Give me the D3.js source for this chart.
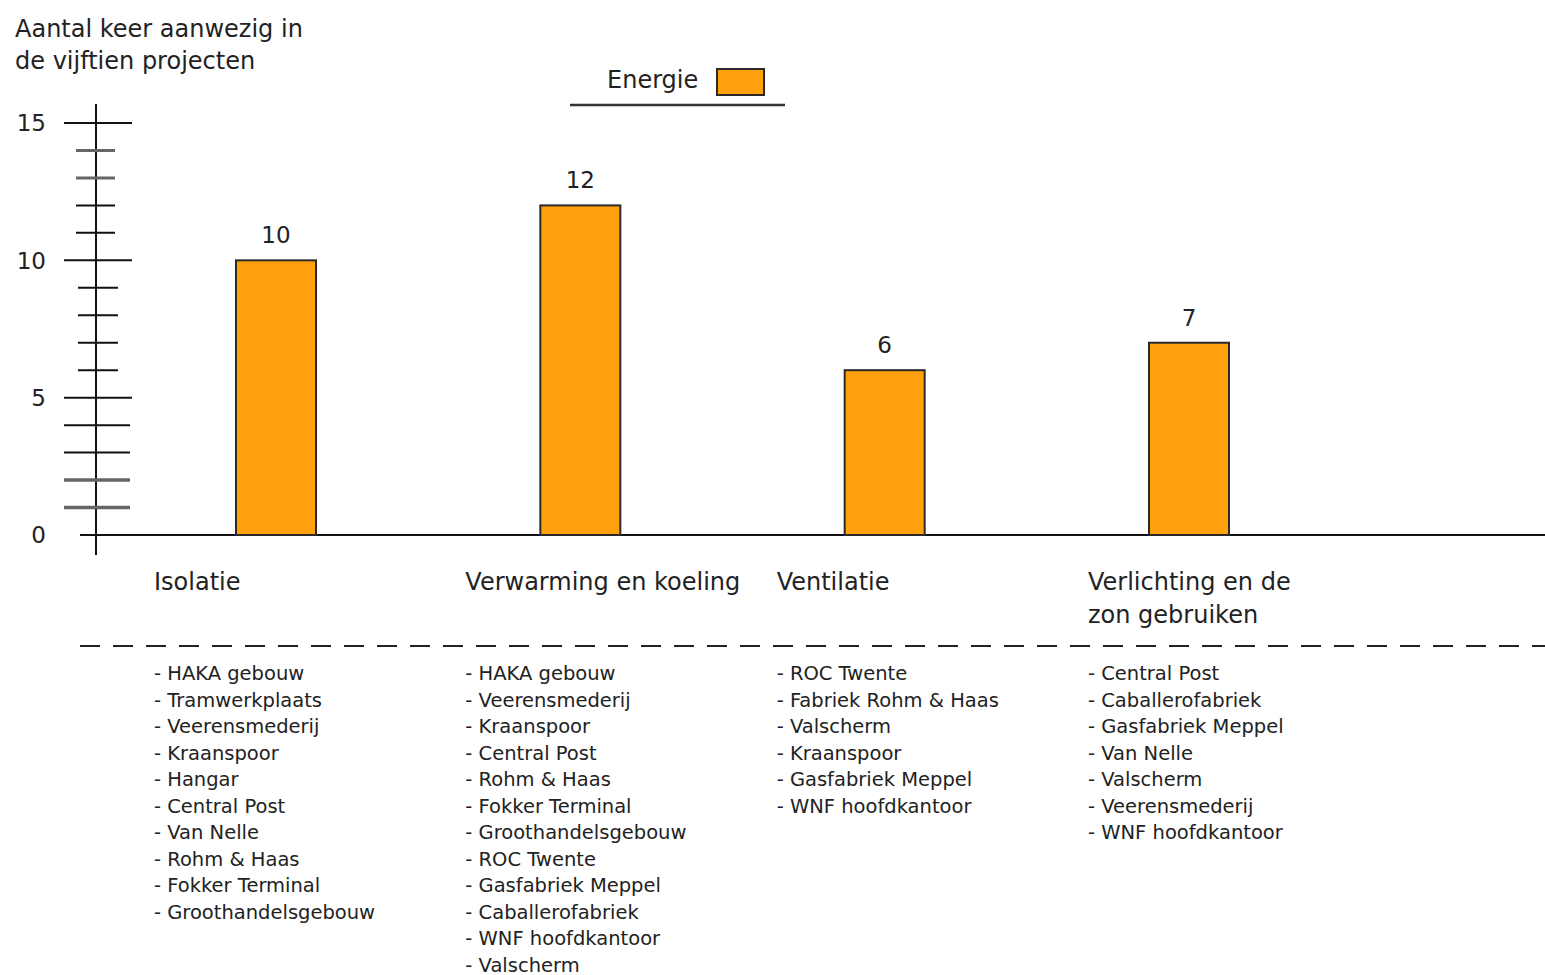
<!DOCTYPE html>
<html><head><meta charset="utf-8">
<script src="https://cdn.jsdelivr.net/npm/d3@7/dist/d3.min.js"></script>
<style>body{margin:0;background:#fff}svg{display:block}text{font-family:"DejaVu Sans",Verdana,sans-serif;fill:#222}</style>
</head><body>
<script>
const categories = ["Isolatie", "Verwarming en koeling", "Ventilatie", "Verlichting en de zon gebruiken"];
const categoryLines = [["Isolatie"], ["Verwarming en koeling"], ["Ventilatie"], ["Verlichting en de", "zon gebruiken"]];
const values = [10, 12, 6, 7];
const yTicks = [0, 5, 10, 15];
const seriesName = "Energie";
const yTitle = ["Aantal keer aanwezig in", "de vijftien projecten"];
const projects = [
  ["HAKA gebouw","Tramwerkplaats","Veerensmederij","Kraanspoor","Hangar","Central Post","Van Nelle","Rohm & Haas","Fokker Terminal","Groothandelsgebouw"],
  ["HAKA gebouw","Veerensmederij","Kraanspoor","Central Post","Rohm & Haas","Fokker Terminal","Groothandelsgebouw","ROC Twente","Gasfabriek Meppel","Caballerofabriek","WNF hoofdkantoor","Valscherm"],
  ["ROC Twente","Fabriek Rohm & Haas","Valscherm","Kraanspoor","Gasfabriek Meppel","WNF hoofdkantoor"],
  ["Central Post","Caballerofabriek","Gasfabriek Meppel","Van Nelle","Valscherm","Veerensmederij","WNF hoofdkantoor"]
];

const W = 1545, H = 975;
const svg = d3.select("body").append("svg").attr("width", W).attr("height", H);
const y = d3.scaleLinear().domain([0, 15]).range([535, 123]);
const x = d3.scalePoint().domain(categories).range([276, 1189]);
const xLab = d3.scalePoint().domain(categories).range([154, 1088]);
const barW = 80;
const axisX = 96;
const orange = "#ffa00c";

// y title
svg.append("g").selectAll("text").data(yTitle).join("text")
  .attr("x", 15).attr("y", (d, i) => 37 + i * 32).attr("font-size", 24).text(d => d);

// y axis line
svg.append("line").attr("x1", axisX).attr("x2", axisX).attr("y1", 104).attr("y2", 555)
  .attr("stroke", "#111").attr("stroke-width", 2);

// ticks (major + minor)
const allTicks = d3.range(1, 16);
svg.append("g").selectAll("line").data(allTicks).join("line")
  .attr("x1", v => v % 5 === 0 ? 64 : v < 5 ? 64 : v < 10 ? 78 : 76)
  .attr("x2", v => v % 5 === 0 ? 132 : v < 5 ? 130 : v < 10 ? 118 : 115)
  .attr("y1", v => y(v)).attr("y2", v => y(v))
  .attr("stroke", v => (v <= 2 || v >= 13 && v <= 14) ? "#666" : "#111")
  .attr("stroke-width", v => (v <= 2) ? 3.5 : (v >= 13 && v <= 14) ? 3 : 2);

svg.append("g").selectAll("text").data(yTicks).join("text")
  .attr("x", 46).attr("y", v => y(v)).attr("dy", "0.36em")
  .attr("text-anchor", "end").attr("font-size", 23).text(v => v);

// x axis line
svg.append("line").attr("x1", 80).attr("x2", W).attr("y1", y(0)).attr("y2", y(0))
  .attr("stroke", "#111").attr("stroke-width", 2);

// bars
svg.append("g").selectAll("rect").data(values).join("rect")
  .attr("x", (d, i) => x(categories[i]) - barW / 2)
  .attr("y", d => y(d)).attr("width", barW).attr("height", d => y(0) - y(d))
  .attr("fill", orange).attr("stroke", "#2a2a2a").attr("stroke-width", 2);

svg.append("g").selectAll("text").data(values).join("text")
  .attr("x", (d, i) => x(categories[i])).attr("y", d => y(d) - 17)
  .attr("text-anchor", "middle").attr("font-size", 23).text(d => d);

// category labels
categoryLines.forEach((lines, i) => {
  svg.append("text").attr("x", xLab(categories[i])).attr("y", 590).attr("font-size", 24)
    .selectAll("tspan").data(lines).join("tspan")
    .attr("x", xLab(categories[i])).attr("dy", (d, j) => j === 0 ? 0 : 33).text(d => d);
});

// dashed separator
svg.append("line").attr("x1", 80).attr("x2", W).attr("y1", 646).attr("y2", 646)
  .attr("stroke", "#222").attr("stroke-width", 2).attr("stroke-dasharray", "20,13");

// project lists
projects.forEach((list, i) => {
  svg.append("g").selectAll("text").data(list).join("text")
    .attr("x", xLab(categories[i])).attr("y", (d, j) => 680 + j * 26.5)
    .attr("font-size", 19.5).text(d => "- " + d);
});

// legend
svg.append("text").attr("x", 607).attr("y", 88).attr("font-size", 24).text(seriesName);
svg.append("rect").attr("x", 717).attr("y", 69).attr("width", 47).attr("height", 26)
  .attr("fill", orange).attr("stroke", "#2a2a2a").attr("stroke-width", 2);
svg.append("line").attr("x1", 570).attr("x2", 785).attr("y1", 105).attr("y2", 105)
  .attr("stroke", "#333").attr("stroke-width", 2.5);
</script>
</body></html>
